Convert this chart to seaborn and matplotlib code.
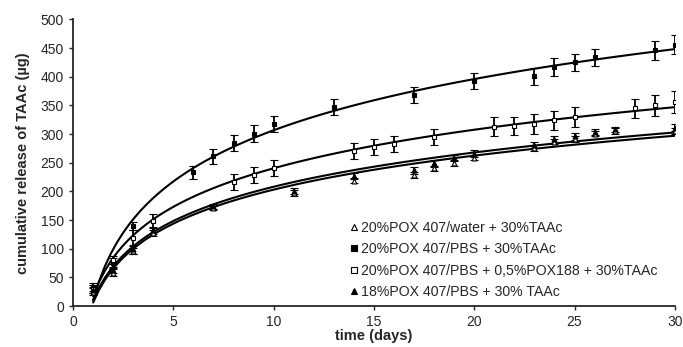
import numpy as np
import matplotlib
matplotlib.use("Agg")
import matplotlib.pyplot as plt
from matplotlib.lines import Line2D
import seaborn as sns

sns.set_style("ticks")
plt.rcParams["font.family"] = ["Liberation Sans", "DejaVu Sans"]

# 20%POX 407/water + 30%TAAc (open triangle)
days_a = [1, 2, 3, 4, 7, 11, 14, 17, 18, 19, 20, 23, 24, 25, 26, 27, 30]
vals_a = [25, 58, 96, 128, 171, 197, 219, 228, 240, 250, 259, 276, 287, 292, 301, 305, 306]
err_a = [6, 6, 6, 5, 4, 5, 5, 5, 5, 5, 5, 5, 5, 5, 5, 5, 5]

# 20%POX 407/PBS + 30%TAAc (filled square)
days_b = [1, 2, 3, 6, 7, 8, 9, 10, 13, 17, 20, 23, 24, 25, 26, 29, 30]
vals_b = [33, 75, 140, 233, 261, 284, 301, 317, 348, 369, 392, 401, 417, 425, 434, 446, 456]
err_b = [7, 8, 7, 12, 13, 14, 14, 14, 14, 14, 14, 15, 15, 15, 15, 16, 17]

# 20%POX 407/PBS + 0,5%POX188 + 30%TAAc (open square)
days_c = [1, 2, 3, 4, 8, 9, 10, 14, 15, 16, 18, 21, 22, 23, 24, 25, 28, 29, 30]
vals_c = [30, 80, 118, 148, 216, 228, 241, 271, 278, 282, 295, 313, 314, 318, 324, 330, 345, 350, 356]
err_c = [7, 7, 14, 12, 14, 14, 14, 14, 14, 14, 14, 16, 16, 17, 17, 17, 17, 18, 19]

# 18%POX 407/PBS + 30% TAAc (filled triangle)
days_d = [1, 2, 3, 4, 7, 11, 14, 17, 18, 19, 20, 23, 24, 25, 26, 27, 30]
vals_d = [28, 63, 99, 132, 174, 201, 227, 237, 249, 258, 266, 281, 291, 296, 304, 308, 311]
err_d = [6, 6, 8, 6, 4, 5, 5, 6, 6, 5, 6, 6, 6, 6, 5, 5, 6]

labels = [
    "20%POX 407/water + 30%TAAc",
    "20%POX 407/PBS + 30%TAAc",
    "20%POX 407/PBS + 0,5%POX188 + 30%TAAc",
    "18%POX 407/PBS + 30% TAAc",
]
markers = ["^", "s", "s", "^"]
faces = ["white", "black", "white", "black"]

series = [
    (days_a, vals_a, err_a),
    (days_b, vals_b, err_b),
    (days_c, vals_c, err_c),
    (days_d, vals_d, err_d),
]

fig = plt.figure(figsize=(6.83, 3.47), dpi=100)
ax = fig.add_axes([0.107, 0.118, 0.881, 0.826])

for (x, y, e), m, fc in zip(series, markers, faces):
    # logarithmic trend line
    sns.regplot(x=np.array(x, float), y=np.array(y, float), logx=True, ci=None,
                scatter=False, color="black", line_kws={"lw": 1.5}, ax=ax)
    ax.errorbar(x, y, yerr=e, fmt=m, color="black", mfc=fc, mec="black",
                ms=3.5, mew=0.8, elinewidth=1.3, capsize=3, capthick=1.3)

handles = [Line2D([], [], ls="none", marker=m, mfc=fc, mec="black", ms=4, mew=0.8)
           for m, fc in zip(markers, faces)]
ax.legend(handles, labels, loc="lower left", bbox_to_anchor=(0.462, 0.025),
          borderaxespad=0, borderpad=0, frameon=False, fontsize=10.2,
          handlelength=0.4, handletextpad=0.3, labelspacing=0.52)

ax.set_xlim(0, 30)
ax.set_ylim(0, 500)
ax.set_xticks(range(0, 31, 5))
ax.set_yticks(range(0, 501, 50))
ax.tick_params(labelsize=10, length=3, width=1, direction="out")
for s in ["left", "bottom"]:
    ax.spines[s].set_linewidth(1.3)
sns.despine(ax=ax)
ax.set_xlabel("time (days)", fontsize=10.5, fontweight="bold", labelpad=0)
ax.set_ylabel("cumulative release of TAAc (µg)", fontsize=10.5, fontweight="bold", labelpad=8)

fig.savefig("out.png", dpi=100)
